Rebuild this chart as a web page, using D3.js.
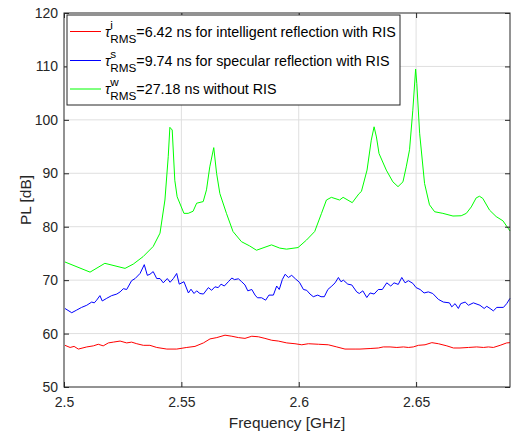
<!DOCTYPE html>
<html>
<head>
<meta charset="utf-8">
<script src="https://cdn.jsdelivr.net/npm/d3@7"></script>
<style>
  body { margin: 0; background: #fff; }
  svg { font-family: "Liberation Sans", Arial, sans-serif; }
</style>
</head>
<body>
<svg id="chart" width="515" height="437"></svg>
<script>
// tick values
var xTicks = [2.5, 2.55, 2.6, 2.65];
var yTicks = [50, 60, 70, 80, 90, 100, 110, 120];

// intelligent reflection with RIS (red)
var freqRed = [2.5004, 2.5026, 2.5043, 2.5061, 2.5097, 2.5125, 2.5146, 2.5167, 2.5189, 2.5210,
  2.5239, 2.5267, 2.5288, 2.5310, 2.5338, 2.5366, 2.5395, 2.5438, 2.5480, 2.5523,
  2.5558, 2.5594, 2.5622, 2.5651, 2.5686, 2.5715, 2.5743, 2.5771, 2.5800, 2.5828,
  2.5856, 2.5885, 2.5913, 2.5949, 2.5984, 2.6013, 2.6041, 2.6084, 2.6126, 2.6162,
  2.6197, 2.6240, 2.6261, 2.6304, 2.6339, 2.6360, 2.6389, 2.6418, 2.6446, 2.6467,
  2.6488, 2.6510, 2.6538, 2.6567, 2.6595, 2.6631, 2.6659, 2.6687, 2.6723, 2.6758,
  2.6787, 2.6808, 2.6829, 2.6858, 2.6886, 2.6900];
var plRed = [57.8, 57.4, 57.6, 57.1, 57.5, 57.7, 58.0, 57.7, 58.25, 58.4,
  58.6, 58.25, 58.4, 58.1, 57.8, 57.8, 57.4, 57.1, 57.1, 57.4,
  57.6, 58.25, 59.0, 59.25, 59.7, 59.5, 59.25, 59.1, 59.5, 59.4,
  59.1, 58.75, 58.6, 58.25, 58.1, 57.9, 58.1, 58.0, 57.9, 57.5,
  57.1, 57.1, 57.1, 57.2, 57.3, 57.5, 57.5, 57.4, 57.5, 57.4,
  57.5, 57.8, 57.9, 58.3, 58.1, 57.7, 57.3, 57.3, 57.4, 57.5,
  57.4, 57.5, 57.4, 57.8, 58.25, 58.3];

// specular reflection with RIS (blue)
var freqBlue = [2.5004, 2.5033, 2.5054, 2.5075, 2.5097, 2.5118, 2.5129, 2.5139, 2.5153, 2.5163,
  2.5182, 2.5203, 2.5225, 2.5239, 2.5253, 2.5267, 2.5288, 2.5303, 2.5324, 2.5342,
  2.5355, 2.5366, 2.5380, 2.5395, 2.5409, 2.5423, 2.5440, 2.5452, 2.5466, 2.5480,
  2.5491, 2.5511, 2.5530, 2.5541, 2.5554, 2.5565, 2.5579, 2.5594, 2.5615, 2.5629,
  2.5643, 2.5657, 2.5669, 2.5683, 2.5700, 2.5715, 2.5726, 2.5743, 2.5757, 2.5771,
  2.5783, 2.5800, 2.5814, 2.5824, 2.5842, 2.5859, 2.5873, 2.5892, 2.5906, 2.5917,
  2.5930, 2.5942, 2.5956, 2.5970, 2.5987, 2.6003, 2.6020, 2.6034, 2.6048, 2.6062,
  2.6081, 2.6095, 2.6109, 2.6124, 2.6141, 2.6155, 2.6169, 2.6180, 2.6190, 2.6209,
  2.6226, 2.6247, 2.6258, 2.6273, 2.6290, 2.6304, 2.6321, 2.6339, 2.6356, 2.6375,
  2.6392, 2.6406, 2.6424, 2.6439, 2.6453, 2.6467, 2.6486, 2.6500, 2.6517, 2.6534,
  2.6552, 2.6571, 2.6595, 2.6616, 2.6642, 2.6652, 2.6666, 2.6680, 2.6690, 2.6709,
  2.6723, 2.6744, 2.6772, 2.6790, 2.6801, 2.6815, 2.6829, 2.6844, 2.6872, 2.6886,
  2.6900];
var plBlue = [64.7, 63.9, 64.4, 64.9, 65.3, 65.9, 65.75, 66.25, 67.1, 66.1,
  66.6, 67.1, 67.4, 67.8, 68.4, 68.25, 69.9, 70.3, 71.25, 72.9,
  70.9, 71.1, 71.6, 70.3, 70.3, 69.5, 70.3, 69.6, 70.3, 71.25,
  69.25, 69.7, 67.6, 68.3, 67.5, 68.0, 67.5, 67.4, 68.6, 68.1,
  68.75, 68.6, 69.25, 68.9, 69.7, 70.4, 70.1, 70.25, 69.7, 69.1,
  68.0, 68.25, 67.2, 66.7, 66.7, 66.25, 67.2, 67.2, 68.9, 68.25,
  70.1, 71.1, 70.5, 70.9, 70.2, 69.6, 68.25, 68.1, 67.4, 66.9,
  67.2, 66.9, 66.9, 68.25, 68.9, 69.5, 70.5, 69.7, 70.0, 69.25,
  69.1, 67.8, 67.5, 68.0, 66.75, 67.6, 67.4, 68.25, 68.25, 69.5,
  68.9, 69.5, 69.2, 70.5, 69.5, 69.9, 69.4, 68.6, 68.25, 67.6,
  67.8, 67.5, 66.4, 65.9, 65.75, 65.0, 65.6, 64.7, 65.6, 65.9,
  65.3, 65.75, 65.3, 64.7, 65.1, 64.7, 64.25, 64.9, 64.9, 65.6,
  66.6];

// without RIS (green)
var freqGreen = [2.5004, 2.5111, 2.5174, 2.5260, 2.5295, 2.5337, 2.5380, 2.5409, 2.5430, 2.5444,
  2.5451, 2.5461, 2.5472, 2.5482, 2.5511, 2.5529, 2.5550, 2.5565, 2.5593, 2.5607,
  2.5621, 2.5638, 2.5650, 2.5664, 2.5692, 2.5720, 2.5756, 2.5791, 2.5820, 2.5884,
  2.5919, 2.5948, 2.5997, 2.6033, 2.6068, 2.6097, 2.6118, 2.6139, 2.6174, 2.6189,
  2.6228, 2.6257, 2.6267, 2.6291, 2.6309, 2.6321, 2.6331, 2.6342, 2.6373, 2.6401,
  2.6423, 2.6444, 2.6458, 2.6472, 2.6486, 2.6498, 2.6503, 2.6515, 2.6536, 2.6557,
  2.6579, 2.6614, 2.6657, 2.6692, 2.6714, 2.6735, 2.6756, 2.6770, 2.6784, 2.6813,
  2.6841, 2.6870, 2.6900];
var plGreen = [73.4, 71.5, 73.15, 72.2, 73.0, 74.4, 76.3, 78.8, 85.0, 93.1,
  98.6, 98.1, 88.7, 85.6, 82.5, 82.5, 82.9, 84.4, 84.7, 86.9,
  91.2, 94.8, 90.0, 86.2, 82.5, 79.1, 77.2, 76.4, 75.6, 76.6,
  76.0, 75.8, 76.1, 77.5, 79.1, 82.5, 85.0, 85.5, 85.0, 85.5,
  84.5, 86.2, 86.6, 90.6, 96.2, 98.7, 96.8, 93.7, 90.6, 88.4,
  87.5, 88.4, 91.2, 94.4, 101.8, 109.5, 106.8, 97.5, 88.1, 84.1,
  82.8, 82.5, 82.0, 82.05, 82.5, 83.7, 85.4, 85.7, 85.3, 83.1,
  81.9, 81.1, 79.2];

var seriesNames = [
  {sup: "i", rest: "=6.42 ns for intelligent reflection with RIS"},
  {sup: "s", rest: "=9.74 ns for specular reflection with RIS"},
  {sup: "w", rest: "=27.18 ns without RIS"}
];
var seriesColors = ["#ff0000", "#0000ff", "#00ff00"];

var margin = {top: 13, right: 5, bottom: 50, left: 64},
    width = 515 - margin.left - margin.right,
    height = 437 - margin.top - margin.bottom;

var axisColor = "#262626";

var x = d3.scaleLinear().domain([2.5, 2.69]).range([0, width]);
var y = d3.scaleLinear().domain([50, 120]).range([height, 0]);

var svg = d3.select("#chart")
  .append("g")
    .attr("transform", "translate(" + margin.left + "," + margin.top + ")");

// grid
svg.append("g")
  .selectAll("line.gx")
  .data(xTicks.slice(1))
  .enter().append("line")
    .attr("x1", d => x(d)).attr("x2", d => x(d))
    .attr("y1", 0).attr("y2", height)
    .attr("stroke", "#dfdfdf").attr("stroke-width", 1);
svg.append("g")
  .selectAll("line.gy")
  .data(yTicks.slice(1, -1))
  .enter().append("line")
    .attr("x1", 0).attr("x2", width)
    .attr("y1", d => y(d)).attr("y2", d => y(d))
    .attr("stroke", "#dfdfdf").attr("stroke-width", 1);

// curves
var line = d3.line()
  .x(d => x(d[0]))
  .y(d => y(d[1]));

var curves = [
  d3.zip(freqRed, plRed),
  d3.zip(freqBlue, plBlue),
  d3.zip(freqGreen, plGreen)
];

svg.append("g")
  .selectAll("path")
  .data(curves)
  .enter().append("path")
    .attr("d", line)
    .attr("fill", "none")
    .attr("stroke", (d, i) => seriesColors[i])
    .attr("stroke-width", 1);

// axes, ticks pointing inward
var tl = 5;
var xAxis = svg.append("g")
  .attr("transform", "translate(0," + height + ")")
  .call(d3.axisBottom(x).tickValues(xTicks).tickSize(-tl).tickPadding(10)
    .tickFormat(d3.format("")));
var xTop = svg.append("g")
  .call(d3.axisTop(x).tickValues(xTicks).tickSize(-tl).tickFormat(""));
var yAxis = svg.append("g")
  .call(d3.axisLeft(y).tickValues(yTicks).tickSize(-tl).tickPadding(6));
var yRight = svg.append("g")
  .attr("transform", "translate(" + width + ",0)")
  .call(d3.axisRight(y).tickValues(yTicks).tickSize(-tl).tickFormat(""));

[xAxis, xTop, yAxis, yRight].forEach(function(g) {
  g.select(".domain").remove();
  g.selectAll("line").attr("stroke", axisColor);
  g.selectAll("text")
    .attr("fill", axisColor)
    .style("font-size", "14px")
    .style("font-family", "'Liberation Sans', Arial, sans-serif");
});

svg.append("rect")
  .attr("x", 0).attr("y", 0)
  .attr("width", width).attr("height", height)
  .attr("fill", "none")
  .attr("stroke", axisColor)
  .attr("stroke-width", 1);

// axis labels
svg.append("text")
  .attr("x", width / 2)
  .attr("y", height + 41)
  .attr("text-anchor", "middle")
  .attr("fill", axisColor)
  .style("font-size", "15.4px")
  .text("Frequency [GHz]");

svg.append("text")
  .attr("transform", "translate(" + (-33) + "," + (height / 2) + ") rotate(-90)")
  .attr("text-anchor", "middle")
  .attr("fill", axisColor)
  .style("font-size", "15.4px")
  .text("PL [dB]");

// legend
var legend = svg.append("g").attr("transform", "translate(3,2)");
legend.append("rect")
  .attr("x", 0).attr("y", 0)
  .attr("width", 333).attr("height", 90)
  .attr("fill", "#fff")
  .attr("stroke", axisColor)
  .attr("stroke-width", 1);

var rowY = [16.5, 45.5, 74];
seriesNames.forEach(function(s, i) {
  var row = legend.append("g").attr("transform", "translate(0," + rowY[i] + ")");
  row.append("line")
    .attr("x1", 3).attr("x2", 34)
    .attr("y1", 0).attr("y2", 0)
    .attr("stroke", seriesColors[i]).attr("stroke-width", 1);
  var tau = row.append("text")
    .attr("x", 38).attr("y", 5)
    .attr("fill", "#000")
    .style("font-size", "14.3px")
    .style("font-style", "italic")
    .text("τ");
  var tx = 38 + tau.node().getComputedTextLength();
  row.append("text")
    .attr("x", tx).attr("y", -3)
    .attr("fill", "#000")
    .style("font-size", "11.7px")
    .text(s.sup);
  var sub = row.append("text")
    .attr("x", tx).attr("y", 11)
    .attr("fill", "#000")
    .style("font-size", "11.7px")
    .text("RMS");
  var rx = tx + sub.node().getComputedTextLength();
  row.append("text")
    .attr("x", rx).attr("y", 5)
    .attr("fill", "#000")
    .style("font-size", "14.3px")
    .text(s.rest);
});
</script>
</body>
</html>
